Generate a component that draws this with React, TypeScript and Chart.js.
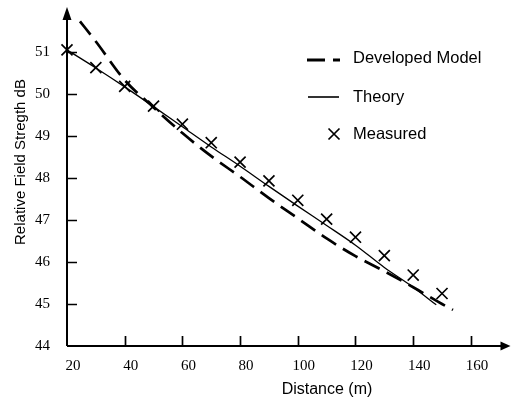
import React, { useEffect, useRef } from "react";
import { Chart, registerables } from "chart.js";

Chart.register(...registerables);

const devX = [24.5, 30, 40, 50, 60, 70, 80, 90, 100, 110, 120, 130, 140, 150, 153.8];
const devY = [51.73, 51.25, 50.33, 49.68, 49.07, 48.52, 48.03, 47.52, 47.04, 46.56, 46.14, 45.78, 45.4, 45.0, 44.86];

const thX = [20, 30, 40, 50, 60, 70, 80, 90, 100, 110, 120, 130, 140, 148];
const thY = [51.05, 50.62, 50.17, 49.7, 49.22, 48.74, 48.28, 47.8, 47.33, 46.87, 46.4, 45.87, 45.4, 44.98];

const measX = [20, 30, 40, 50, 60, 70, 80, 90, 100, 110, 120, 130, 140, 150];
const measY = [51.05, 50.63, 50.18, 49.71, 49.28, 48.84, 48.38, 47.93, 47.47, 47.02, 46.59, 46.15, 45.69, 45.25];

const xTicks = [20, 40, 60, 80, 100, 120, 140, 160];
const yTicks = [44, 45, 46, 47, 48, 49, 50, 51];

const seriesNames = ["Developed Model", "Theory", "Measured"];
const xTitle = "Distance (m)";
const yTitle = "Relative Field Stregth dB";

const toPts = (xs: number[], ys: number[]) => xs.map((x, i) => ({ x, y: ys[i] }));

const decorPlugin = {
  id: "decor",
  afterDraw(chart: any) {
    const ctx = chart.ctx as CanvasRenderingContext2D;
    const xs = chart.scales.x;
    const ys = chart.scales.y;
    const a = chart.chartArea;
    ctx.save();
    ctx.strokeStyle = "#000";
    ctx.fillStyle = "#000";
    ctx.lineWidth = 2;
    // axes
    ctx.beginPath();
    ctx.moveTo(a.left, a.bottom);
    ctx.lineTo(a.left, a.top + 8);
    ctx.moveTo(a.left, a.bottom);
    ctx.lineTo(a.right - 2, a.bottom);
    ctx.stroke();
    // arrow heads
    ctx.beginPath();
    ctx.moveTo(a.left, a.top - 3);
    ctx.lineTo(a.left - 4.5, a.top + 10);
    ctx.lineTo(a.left + 4.5, a.top + 10);
    ctx.closePath();
    ctx.fill();
    ctx.beginPath();
    ctx.moveTo(a.right + 5, a.bottom);
    ctx.lineTo(a.right - 5, a.bottom - 4.5);
    ctx.lineTo(a.right - 5, a.bottom + 4.5);
    ctx.closePath();
    ctx.fill();
    // ticks (inside)
    ctx.lineWidth = 1.7;
    ctx.beginPath();
    xTicks.slice(1).forEach((v) => {
      const px = Math.round(xs.getPixelForValue(v)) + 0.5;
      ctx.moveTo(px, a.bottom);
      ctx.lineTo(px, a.bottom - 10);
    });
    yTicks.slice(1).forEach((v) => {
      const py = Math.round(ys.getPixelForValue(v)) + 0.5;
      ctx.moveTo(a.left, py);
      ctx.lineTo(a.left + 10, py);
    });
    ctx.stroke();
    // titles
    ctx.font = "16px 'Liberation Sans', Arial, sans-serif";
    ctx.textAlign = "center";
    ctx.textBaseline = "middle";
    ctx.fillText(xTitle, 327, 390);
    ctx.save();
    ctx.translate(21, 162);
    ctx.rotate(-Math.PI / 2);
    ctx.font = "15px 'Liberation Sans', Arial, sans-serif";
    ctx.fillText(yTitle, 0, 0);
    ctx.restore();
    // legend
    ctx.textAlign = "left";
    ctx.font = "16.5px 'Liberation Sans', Arial, sans-serif";
    const rows = [60, 97, 134];
    ctx.lineWidth = 2.8;
    ctx.setLineDash([18, 8]);
    ctx.beginPath();
    ctx.moveTo(307, rows[0]);
    ctx.lineTo(340, rows[0]);
    ctx.stroke();
    ctx.setLineDash([]);
    ctx.lineWidth = 1.6;
    ctx.beginPath();
    ctx.moveTo(308, rows[1]);
    ctx.lineTo(339, rows[1]);
    ctx.stroke();
    ctx.lineWidth = 1.7;
    ctx.beginPath();
    ctx.moveTo(334 - 5.5, rows[2] - 5.5);
    ctx.lineTo(334 + 5.5, rows[2] + 5.5);
    ctx.moveTo(334 + 5.5, rows[2] - 5.5);
    ctx.lineTo(334 - 5.5, rows[2] + 5.5);
    ctx.stroke();
    const labels = chart.data.datasets.map((d: any) => d.label);
    ctx.fillText(labels[0], 353, rows[0] - 2);
    ctx.fillText(labels[1], 353, rows[1]);
    ctx.fillText(labels[2], 353, rows[2]);
    ctx.restore();
  },
};

export default function App() {
  const ref = useRef<HTMLCanvasElement>(null);
  useEffect(() => {
    if (!ref.current) return;
    const chart = new Chart(ref.current, {
      type: "line",
      data: {
        datasets: [
          {
            label: seriesNames[0],
            data: toPts(devX, devY),
            borderColor: "#000",
            borderWidth: 2.7,
            borderDash: [17, 8],
            pointRadius: 0,
            cubicInterpolationMode: "monotone",
            fill: false,
          },
          {
            label: seriesNames[1],
            data: toPts(thX, thY),
            borderColor: "#000",
            borderWidth: 1.3,
            pointRadius: 0,
            cubicInterpolationMode: "monotone",
            fill: false,
          },
          {
            label: seriesNames[2],
            data: toPts(measX, measY),
            showLine: false,
            clip: 12,
            borderColor: "#000",
            backgroundColor: "#000",
            borderWidth: 1.7,
            pointStyle: "crossRot",
            pointRadius: 7.8,
          },
        ],
      } as any,
      options: {
        responsive: false,
        animation: false,
        layout: { padding: { top: 10, right: 5, left: 0, bottom: 0 } },
        plugins: { legend: { display: false }, tooltip: { enabled: false } },
        scales: {
          x: {
            type: "linear",
            min: 20,
            max: 172,
            grid: { display: false, drawTicks: false },
            border: { display: false },
            afterBuildTicks: (s: any) => {
              s.ticks = xTicks.map((v) => ({ value: v }));
            },
            afterFit: (s: any) => {
              s.height = 54;
              s.paddingLeft = 0;
              s.paddingRight = 0;
            },
            ticks: {
              color: "#000",
              padding: 11,
              labelOffset: 6,
              maxRotation: 0,
              autoSkip: false,
              font: { family: "'Liberation Serif', 'Times New Roman', serif", size: 15 },
            },
          },
          y: {
            type: "linear",
            min: 44,
            max: 52,
            grid: { display: false, drawTicks: false },
            border: { display: false },
            afterBuildTicks: (s: any) => {
              s.ticks = yTicks.map((v) => ({ value: v }));
            },
            afterFit: (s: any) => {
              s.width = 67;
              s.paddingTop = 0;
              s.paddingBottom = 0;
            },
            ticks: {
              color: "#000",
              padding: 17,
              autoSkip: false,
              font: { family: "'Liberation Serif', 'Times New Roman', serif", size: 15 },
            },
          },
        },
      } as any,
      plugins: [decorPlugin],
    });
    return () => chart.destroy();
  }, []);
  return (
    <div style={{ position: "absolute", left: 0, top: 0, width: 515, height: 400, background: "#fff" }}>
      <canvas ref={ref} width={515} height={400} />
    </div>
  );
}
